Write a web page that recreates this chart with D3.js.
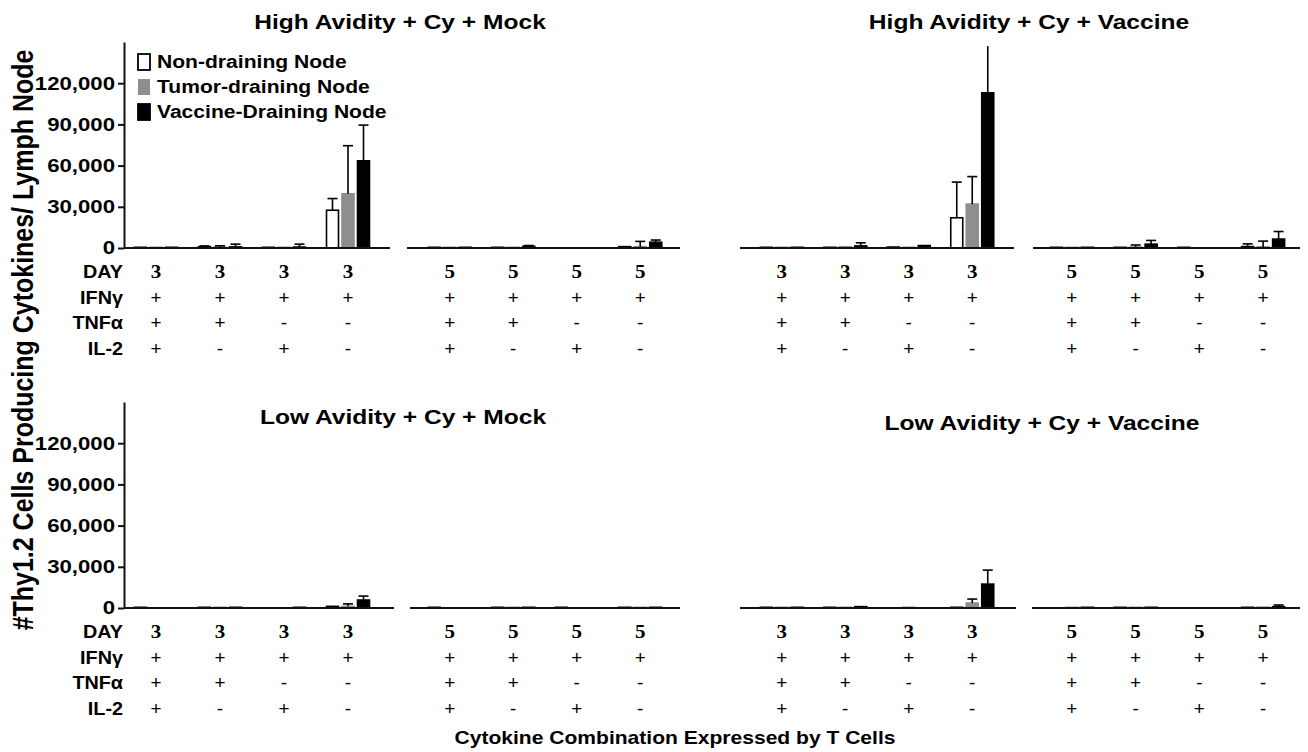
<!DOCTYPE html>
<html>
<head>
<meta charset="utf-8">
<script src="https://cdn.jsdelivr.net/npm/d3@7"></script>
<style>
  body { margin: 0; background: #fff; }
  text { font-family: "Liberation Sans", Arial, sans-serif; }
</style>
</head>
<body>
<div id="chart"></div>
<script>
// cytokine combos per group (days 3 then 5)
var days = ["3", "3", "3", "3", "5", "5", "5", "5"];
var ifng = ["+", "+", "+", "+", "+", "+", "+", "+"];
var tnfa = ["+", "+", "-", "-", "+", "+", "-", "-"];
var il2 = ["+", "-", "+", "-", "+", "-", "+", "-"];
var rowNames = ["DAY", "IFNγ", "TNFα", "IL-2"];
var seriesNames = ["Non-draining Node", "Tumor-draining Node", "Vaccine-Draining Node"];
var yTicks = [0, 30000, 60000, 90000, 120000];

// High avidity + Cy + Mock
var hiMockNon = [500, 900, 500, 27500, 500, 500, 0, 1000];
var hiMockTum = [500, 700, 500, 39500, 500, 500, 0, 1000];
var hiMockVac = [500, 800, 700, 63500, 500, 1200, 0, 4200];
var hiMockNonErr = [0, 1500, 0, 36000, 0, 0, 0, 0];
var hiMockTumErr = [0, 1600, 0, 74500, 0, 0, 0, 4800];
var hiMockVacErr = [0, 2800, 2800, 89500, 0, 1800, 0, 5800];

// High avidity + Cy + Vaccine
var hiVacNon = [500, 500, 700, 22000, 500, 500, 500, 1000];
var hiVacTum = [500, 900, 500, 32000, 500, 700, 0, 800];
var hiVacVac = [500, 1500, 1800, 113000, 500, 2800, 0, 6500];
var hiVacNonErr = [0, 0, 0, 48000, 0, 0, 0, 3000];
var hiVacTumErr = [0, 0, 0, 52000, 0, 2200, 0, 5000];
var hiVacVacErr = [0, 3800, 0, 147000, 0, 5500, 0, 12000];

// Low avidity + Cy + Mock
var loMockNon = [500, 500, 0, 1200, 500, 500, 500, 500];
var loMockTum = [0, 500, 0, 1200, 0, 500, 0, 500];
var loMockVac = [0, 500, 500, 5800, 0, 500, 0, 500];
var loMockNonErr = [0, 0, 0, 0, 0, 0, 0, 0];
var loMockTumErr = [0, 0, 0, 3000, 0, 0, 0, 0];
var loMockVacErr = [0, 0, 0, 8700, 0, 0, 0, 0];

// Low avidity + Cy + Vaccine
var loVacNon = [500, 500, 0, 500, 0, 500, 0, 500];
var loVacTum = [500, 500, 500, 3600, 500, 500, 0, 600];
var loVacVac = [500, 1000, 0, 17400, 500, 500, 0, 1000];
var loVacNonErr = [0, 0, 0, 0, 0, 0, 0, 0];
var loVacTumErr = [0, 0, 0, 6500, 0, 0, 0, 0];
var loVacVacErr = [0, 0, 0, 27600, 0, 0, 0, 2200];

var W = 1308, H = 752;
var SX = 1.17; // the figure is stretched sideways
var colors = ["#ffffff", "#8e8e8e", "#000000"];
var strokes = ["#000000", "#8e8e8e", "#000000"];

var svg = d3.select("#chart").append("svg").attr("width", W).attr("height", H);

function stext(g, x, y, str, size, opts) {
    opts = opts || {};
    return g.append("text")
        .attr("transform", "translate(" + x + "," + y + ") scale(" + (opts.sx || SX) + ",1)" + (opts.rot ? " rotate(" + opts.rot + ")" : ""))
        .attr("text-anchor", opts.anchor || "middle")
        .attr("dy", "0.35em")
        .style("font-size", size + "px")
        .style("font-weight", opts.weight || "bold")
        .style("font-family", opts.family || null)
        .attr("fill", "#000")
        .text(str);
}

var panels = [
    {title: "High Avidity + Cy + Mock", tx: 400, ty: 22, zero: 248, top: 42, axis: true, legend: true,
     b3: [124, 380], l3: [124, 390], b5: [418, 672], l5: [407, 680],
     vals: [hiMockNon, hiMockTum, hiMockVac], errs: [hiMockNonErr, hiMockTumErr, hiMockVacErr]},
    {title: "High Avidity + Cy + Vaccine", tx: 1029, ty: 22, zero: 248, top: 42, axis: false,
     b3: [750, 1004], l3: [740, 1014], b5: [1040, 1295], l5: [1033, 1300],
     vals: [hiVacNon, hiVacTum, hiVacVac], errs: [hiVacNonErr, hiVacTumErr, hiVacVacErr]},
    {title: "Low Avidity + Cy + Mock", tx: 403, ty: 417, zero: 608, top: 402, axis: true,
     b3: [124, 380], l3: [124, 394], b5: [418, 672], l5: [410, 680],
     vals: [loMockNon, loMockTum, loMockVac], errs: [loMockNonErr, loMockTumErr, loMockVacErr]},
    {title: "Low Avidity + Cy + Vaccine", tx: 1042, ty: 423, zero: 608, top: 402, axis: false,
     b3: [750, 1004], l3: [740, 1016], b5: [1040, 1295], l5: [1032, 1300],
     vals: [loVacNon, loVacTum, loVacVac], errs: [loVacNonErr, loVacTumErr, loVacVacErr]}
];

var barW = 12, barStep = 15.5;

panels.forEach(function(p) {
    var g = svg.append("g");
    var y = d3.scaleLinear().domain([0, 150000]).range([p.zero, p.top]);
    var x3 = d3.scaleBand().domain(d3.range(4)).range(p.b3);
    var x5 = d3.scaleBand().domain(d3.range(4, 8)).range(p.b5);
    var xc = function(i) { return i < 4 ? x3(i) + x3.bandwidth() / 2 : x5(i) + x5.bandwidth() / 2; };

    stext(g, p.tx, p.ty, p.title, 21);

    // bars
    p.vals.forEach(function(arr, s) {
        var items = arr.map(function(v, i) { return {v: v, e: p.errs[s][i], i: i}; })
            .filter(function(d) { return d.v > 0; });
        g.append("g").selectAll("rect").data(items).enter().append("rect")
            .attr("x", function(d) { return xc(d.i) + (s - 1) * barStep - barW / 2; })
            .attr("y", function(d) { return y(d.v); })
            .attr("width", barW)
            .attr("height", function(d) { return y(0) - y(d.v); })
            .attr("fill", colors[s])
            .attr("stroke", strokes[s])
            .attr("stroke-width", 1.6);
        var eg = g.append("g").selectAll("g").data(items.filter(function(d) { return d.e > d.v; })).enter().append("g")
            .attr("stroke", "#000").attr("stroke-width", 1.6);
        eg.append("line")
            .attr("x1", function(d) { return xc(d.i) + (s - 1) * barStep; })
            .attr("x2", function(d) { return xc(d.i) + (s - 1) * barStep; })
            .attr("y1", function(d) { return y(d.v); })
            .attr("y2", function(d) { return y(d.e); });
        eg.filter(function(d) { return d.e < 145000; }).append("line")
            .attr("x1", function(d) { return xc(d.i) + (s - 1) * barStep - 5; })
            .attr("x2", function(d) { return xc(d.i) + (s - 1) * barStep + 5; })
            .attr("y1", function(d) { return y(d.e); })
            .attr("y2", function(d) { return y(d.e); });
    });

    // baselines
    [p.l3, p.l5].forEach(function(r) {
        g.append("line").attr("x1", r[0]).attr("x2", r[1]).attr("y1", y(0)).attr("y2", y(0))
            .attr("stroke", "#111").attr("stroke-width", 2);
    });

    if (p.axis) {
        var ax = g.append("g").attr("transform", "translate(" + p.b3[0] + ",0)")
            .call(d3.axisLeft(y).tickValues(yTicks).tickFormat(d3.format(",")).tickSize(6).tickSizeOuter(0));
        ax.select(".domain").attr("stroke", "#111").attr("stroke-width", 2);
        ax.selectAll(".tick line").attr("stroke", "#111").attr("stroke-width", 2);
        ax.selectAll(".tick text")
            .attr("x", -9 / 1.2)
            .attr("transform", "scale(1.2,1)")
            .style("font-size", "18.5px").style("font-weight", "bold")
            .style("font-family", "'Liberation Sans', Arial, sans-serif").attr("fill", "#000");
        rowNames.forEach(function(n, k) {
            stext(g, p.b3[0] - 1, p.zero + 24 + k * 25.5, n, 18, {anchor: "end", sx: 1.1});
        });
    }

    // table of combinations
    var rows = [days, ifng, tnfa, il2];
    rows.forEach(function(row, k) {
        row.forEach(function(t, i) {
            if (k === 0) {
                stext(g, xc(i), p.zero + 24, t, 18, {family: "'Liberation Serif', 'Times New Roman', serif"});
            } else {
                stext(g, xc(i), p.zero + 24 + k * 25.5, t, 18, {weight: "normal", sx: 1.05});
            }
        });
    });

    if (p.legend) {
        var lg = g.append("g");
        seriesNames.forEach(function(n, s) {
            var cy = 62 + s * 25;
            lg.append("rect").attr("x", 138).attr("y", cy - 8).attr("width", 12).attr("height", 16)
                .attr("fill", colors[s]).attr("stroke", s === 1 ? "none" : "#000").attr("stroke-width", 1.8);
            stext(lg, 157, cy, n, 18.5, {anchor: "start", sx: 1.14});
        });
    }
});

stext(svg, 23, 340, "#Thy1.2 Cells Producing Cytokines/ Lymph Node", 25, {rot: -90});
stext(svg, 675, 738, "Cytokine Combination Expressed by T Cells", 18);
</script>
</body>
</html>
